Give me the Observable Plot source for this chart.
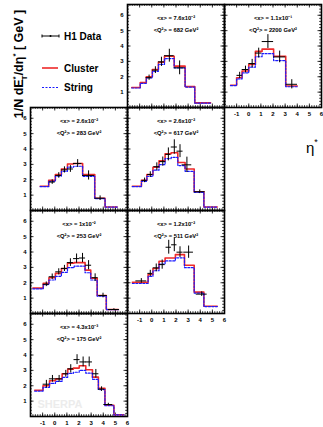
<!DOCTYPE html>
<html><head><meta charset="utf-8">
<script src="https://cdn.jsdelivr.net/npm/d3@7"></script>
<script src="https://cdn.jsdelivr.net/npm/@observablehq/plot@0.6"></script>
<style>
body{margin:0;background:#fff;}
#wrap{position:relative;width:323px;height:427px;overflow:hidden;font-family:"Liberation Sans",Arial,Helvetica,sans-serif;}
#wrap svg{position:absolute;}
</style></head><body><div id="wrap"></div>
<script>
// ---- tick labels ----
const etaTickLabels = [-1, 0, 1, 2, 3, 4, 5, 6];
const yTickLabels = [1, 2, 3, 4, 5, 6];
const panelXLabels = ["<x> = 7.6x10⁻²", "<x> = 1.1x10⁻¹", "<x> = 2.6x10⁻²", "<x> = 2.6x10⁻²", "<x> = 1x10⁻²", "<x> = 1.2x10⁻²", "<x> = 4.3x10⁻³"];
const panelQ2Labels = ["<Q²> = 682 GeV²", "<Q²> = 2200 GeV²", "<Q²> = 283 GeV²", "<Q²> = 617 GeV²", "<Q²> = 253 GeV²", "<Q²> = 511 GeV²", "<Q²> = 175 GeV²"];
const seriesNames = ["H1 Data", "Cluster", "String"];

// ---- panel A : <Q2>=682 ----
const aEdges = [-1.65, -0.95, -0.45, 0.05, 0.55, 1.05, 1.85, 2.75, 3.55, 4.85];
const aCluster = [1.30, 1.62, 2.00, 2.47, 2.94, 3.33, 2.69, 1.36, 0.30];
const aString = [1.27, 1.57, 1.92, 2.35, 2.80, 3.18, 2.58, 1.33, 0.28];
const aEta = [-0.22, 0.30, 0.80, 1.45, 2.30];
const aData = [1.94, 2.43, 2.97, 3.37, 2.58];
const aDx = [0.25, 0.25, 0.25, 0.40, 0.45];
const aDy = [0.17, 0.22, 0.30, 0.42, 0.45];
// ---- panel B : <Q2>=2200 ----
const bEdges = [-1.5, -1.0, -0.55, 0.0, 0.55, 1.1, 2.05, 3.05, 4.0];
const bCluster = [1.45, 1.94, 2.37, 2.80, 3.65, 3.80, 3.33, 1.40];
const bString = [1.42, 1.86, 2.25, 2.62, 3.30, 3.50, 3.05, 1.35];
const bEta = [-0.75, -0.27, 0.28, 0.82, 1.58, 2.55, 3.55];
const bData = [2.09, 2.47, 2.86, 3.54, 4.29, 3.29, 1.51];
const bDx = [0.22, 0.27, 0.27, 0.27, 0.47, 0.50, 0.47];
const bDy = [0.20, 0.22, 0.27, 0.32, 0.45, 0.38, 0.30];
// ---- panel C : <Q2>=283 ----
const cEdges = [-1.2, -0.5, 0.05, 0.55, 1.05, 1.55, 2.3, 3.3, 4.15, 5.15];
const cCluster = [1.58, 1.96, 2.34, 2.70, 3.02, 3.06, 2.34, 0.80, 0.23];
const cString = [1.55, 1.90, 2.24, 2.55, 2.82, 2.88, 2.22, 0.77, 0.22];
const cEta = [-0.21, 0.33, 0.80, 1.29, 1.89, 2.79, 3.74];
const cData = [1.85, 2.28, 2.64, 2.70, 3.06, 2.28, 0.80];
const cDx = [0.25, 0.25, 0.25, 0.25, 0.35, 0.50, 0.42];
const cDy = [0.15, 0.18, 0.20, 0.22, 0.25, 0.30, 0.15];
// ---- panel D : <Q2>=617 ----
const dEdges = [-1.6, -0.85, -0.4, 0.1, 0.6, 1.1, 1.6, 2.15, 2.75, 3.5, 4.3, 5.4];
const dCluster = [1.58, 1.96, 2.34, 2.81, 3.23, 3.69, 3.76, 3.12, 2.70, 1.22, 0.23];
const dString = [1.55, 1.90, 2.22, 2.62, 2.98, 3.38, 3.45, 2.92, 2.55, 1.18, 0.22];
const dEta = [-0.59, -0.12, 0.42, 0.91, 1.37, 1.86, 2.33, 2.90, 3.96];
const dData = [1.96, 2.34, 2.85, 3.18, 3.65, 4.13, 3.86, 2.97, 1.22];
const dDx = [0.22, 0.22, 0.25, 0.25, 0.22, 0.25, 0.25, 0.40, 0.45];
const dDy = [0.15, 0.18, 0.25, 0.30, 0.42, 0.47, 0.42, 0.50, 0.12];
// ---- panel E : <Q2>=253 ----
const eEdges = [-1.8, -0.95, -0.48, 0.05, 0.55, 1.05, 1.6, 2.5, 2.97, 3.5, 4.25, 5.25];
const eCluster = [1.65, 1.97, 2.33, 2.61, 2.93, 3.28, 3.31, 2.82, 2.29, 1.17, 0.26];
const eString = [1.60, 1.88, 2.18, 2.42, 2.68, 2.98, 3.08, 2.65, 2.18, 1.13, 0.25];
const eEta = [-0.70, -0.21, 0.33, 0.80, 1.29, 1.80, 2.29, 2.79, 3.33, 3.98, 4.88];
const eData = [1.90, 2.39, 2.71, 2.93, 3.31, 3.57, 3.61, 3.14, 2.33, 1.17, 0.26];
const eDx = [0.25, 0.25, 0.25, 0.25, 0.25, 0.25, 0.25, 0.25, 0.25, 0.35, 0.45];
const eDy = [0.15, 0.18, 0.20, 0.20, 0.25, 0.30, 0.30, 0.30, 0.25, 0.15, 0.05];
// ---- panel F : <Q2>=511 ----
const fEdges = [-1.6, -0.3, 0.1, 0.6, 1.1, 1.95, 2.7, 3.5, 4.3, 5.4];
const fCluster = [2.03, 2.54, 2.93, 3.40, 3.61, 3.83, 3.14, 1.39, 0.47];
const fString = [1.95, 2.42, 2.78, 3.22, 3.42, 3.62, 2.98, 1.33, 0.45];
const fEta = [-0.86, -0.12, 0.37, 0.86, 1.40, 1.86, 2.33, 3.04, 4.12];
const fData = [2.12, 2.61, 2.97, 3.18, 4.31, 4.47, 3.99, 3.99, 1.26];
const fDx = [0.45, 0.20, 0.25, 0.25, 0.22, 0.22, 0.25, 0.40, 0.45];
const fDy = [0.15, 0.20, 0.25, 0.30, 0.45, 0.45, 0.35, 0.40, 0.15];
// ---- panel G : <Q2>=175 ----
const gEdges = [-1.65, -0.97, -0.43, 0.06, 0.61, 1.07, 1.53, 2.02, 2.56, 3.11, 3.6, 4.14, 4.88, 5.69];
const gCluster = [1.71, 2.00, 2.33, 2.45, 2.78, 3.08, 3.15, 3.30, 3.04, 2.56, 1.84, 0.73, 0.11];
const gString = [1.65, 1.90, 2.15, 2.28, 2.55, 2.80, 2.88, 3.00, 2.82, 2.42, 1.75, 0.70, 0.10];
const gEta = [-0.69, -0.19, 0.36, 0.91, 1.32, 1.84, 2.34, 2.84, 3.39, 3.86, 4.42];
const gData = [2.10, 2.45, 2.45, 2.78, 3.10, 3.70, 3.55, 3.55, 2.78, 1.78, 0.78];
const gDx = [0.27, 0.25, 0.27, 0.23, 0.23, 0.25, 0.27, 0.27, 0.25, 0.27, 0.37];
const gDy = [0.25, 0.22, 0.22, 0.22, 0.27, 0.32, 0.32, 0.32, 0.28, 0.15, 0.08];

const panels = [
  {i: 0, col: 1, row: 0, edges: aEdges, cl: aCluster, st: aString, eta: aEta, v: aData, dx: aDx, dy: aDy, yLab: true, xLab: false},
  {i: 1, col: 2, row: 0, edges: bEdges, cl: bCluster, st: bString, eta: bEta, v: bData, dx: bDx, dy: bDy, yLab: false, xLab: true},
  {i: 2, col: 0, row: 1, edges: cEdges, cl: cCluster, st: cString, eta: cEta, v: cData, dx: cDx, dy: cDy, yLab: true, xLab: false},
  {i: 3, col: 1, row: 1, edges: dEdges, cl: dCluster, st: dString, eta: dEta, v: dData, dx: dDx, dy: dDy, yLab: false, xLab: false},
  {i: 4, col: 0, row: 2, edges: eEdges, cl: eCluster, st: eString, eta: eEta, v: eData, dx: eDx, dy: eDy, yLab: true, xLab: false},
  {i: 5, col: 1, row: 2, edges: fEdges, cl: fCluster, st: fString, eta: fEta, v: fData, dx: fDx, dy: fDy, yLab: false, xLab: true},
  {i: 6, col: 0, row: 3, edges: gEdges, cl: gCluster, st: gString, eta: gEta, v: gData, dx: gDx, dy: gDy, yLab: true, xLab: true, sherpa: true}
];

const wrap = document.getElementById("wrap");
const FONT = '"Liberation Sans",Arial,Helvetica,sans-serif';

// overlay: legend, axis titles
const ns = "http://www.w3.org/2000/svg";
const ov = document.createElementNS(ns, "svg");
ov.setAttribute("width", 323); ov.setAttribute("height", 427);
ov.style.left = "0px"; ov.style.top = "0px";
ov.innerHTML = `
<g font-family='${FONT}' font-weight='bold'>
 <text transform='translate(23,64) rotate(-90)' text-anchor='middle' font-size='12.5'>1/N dE<tspan font-size='8' dy='-5'>*</tspan><tspan font-size='8' dx='-4' dy='9'>T</tspan><tspan dy='-4'>/dη</tspan><tspan font-size='8' dy='-5'>*</tspan><tspan dy='5'> [ GeV ]</tspan></text>
 <line x1='42' x2='59' y1='36' y2='36' stroke='black' stroke-width='1'/>
 <line x1='42' x2='42' y1='34.5' y2='37.5' stroke='black' stroke-width='1'/>
 <line x1='59' x2='59' y1='34.5' y2='37.5' stroke='black' stroke-width='1'/>
 <circle cx='50.5' cy='36' r='1' fill='black'/>
 <line x1='42' x2='58' y1='68' y2='68' stroke='#ee2a2a' stroke-width='1.6'/>
 <line x1='42' x2='58' y1='87.5' y2='87.5' stroke='#1a1aff' stroke-width='1.2' stroke-dasharray='2 1.5'/>
 <text x='64' y='39.5' font-size='10'>${seriesNames[0]}</text>
 <text x='64' y='71.5' font-size='10'>${seriesNames[1]}</text>
 <text x='64' y='91' font-size='10'>${seriesNames[2]}</text>
</g>
<text x='306' y='153' font-family='${FONT}' font-size='15'>η<tspan font-size='9' dy='-8'>*</tspan></text>`;
wrap.appendChild(ov);

const X0 = 30, W = 97, Y0 = 4, H = 103;
const XD = [-2, 6], YD = [0, 6.7];
const kx = W / (XD[1] - XD[0]), ky = H / (YD[1] - YD[0]);
const mL = 16, mR = 3, mT = 3, mB = 14;
const maj = 3.5, mnr = 1.8;
const xMinor = d3.range(-20, 61, 2).map(v => v / 10);
const xMajor = d3.range(-2, 7);
const yMinor = d3.range(0, 67, 2).map(v => v / 10);
const yMajor = d3.range(0, 7);

function stepPoints(edges, vals) {
  return edges.map((e, j) => ({x: e, y: vals[Math.min(j, vals.length - 1)]}));
}

for (const p of panels) {
  const rows = p.eta.map((e, j) => ({eta: e, v: p.v[j], dx: p.dx[j], dy: p.dy[j]}));
  const tk = {stroke: "black", strokeWidth: 0.8};
  const marks = [
    // ticks (inward, on all four sides)
    Plot.ruleX(xMinor, {x: d => d, y1: YD[0], y2: YD[0] + mnr / ky, ...tk}),
    Plot.ruleX(xMajor, {x: d => d, y1: YD[0], y2: YD[0] + maj / ky, ...tk}),
    Plot.ruleX(xMinor, {x: d => d, y1: YD[1] - mnr / ky, y2: YD[1], ...tk}),
    Plot.ruleX(xMajor, {x: d => d, y1: YD[1] - maj / ky, y2: YD[1], ...tk}),
    Plot.ruleY(yMinor, {y: d => d, x1: XD[0], x2: XD[0] + mnr / kx, ...tk}),
    Plot.ruleY(yMajor, {y: d => d, x1: XD[0], x2: XD[0] + maj / kx, ...tk}),
    Plot.ruleY(yMinor, {y: d => d, x1: XD[1] - mnr / kx, x2: XD[1], ...tk}),
    Plot.ruleY(yMajor, {y: d => d, x1: XD[1] - maj / kx, x2: XD[1], ...tk}),
    Plot.frame({stroke: "black", strokeWidth: 1.6}),
    Plot.line(stepPoints(p.edges, p.cl), {x: "x", y: "y", curve: "step-after", stroke: "#ee2a2a", strokeWidth: 1.6}),
    Plot.line(stepPoints(p.edges, p.st), {x: "x", y: "y", curve: "step-after", stroke: "#1a1aff", strokeWidth: 1.2, strokeDasharray: "2 1.5"}),
    Plot.ruleY(rows, {y: "v", x1: d => d.eta - d.dx, x2: d => d.eta + d.dx, stroke: "black", strokeWidth: 1}),
    Plot.ruleX(rows, {x: "eta", y1: d => d.v - d.dy, y2: d => d.v + d.dy, stroke: "black", strokeWidth: 1}),
    Plot.text([panelXLabels[p.i]], {frameAnchor: "top", dy: 11, text: d => d, fontSize: 5.8, fontWeight: "bold"}),
    Plot.text([panelQ2Labels[p.i]], {frameAnchor: "top", dy: 23, text: d => d, fontSize: 5.8, fontWeight: "bold"})
  ];
  if (p.xLab) marks.push(Plot.text(etaTickLabels, {x: d => d, y: YD[0], dy: 7, text: d => String(d), fontSize: 6, fontWeight: "bold"}));
  if (p.yLab) marks.push(Plot.text(yTickLabels, {x: XD[0], y: d => d, dx: -4, textAnchor: "end", text: d => String(d), fontSize: 6, fontWeight: "bold"}));
  if (p.sherpa) marks.push(Plot.text(["SHERPA"], {frameAnchor: "bottom-left", dx: 7, dy: -9, text: d => d, fontSize: 11, fontWeight: "bold", fill: "#ececec"}));
  const svg = Plot.plot({
    width: W + mL + mR, height: H + mT + mB,
    marginLeft: mL, marginRight: mR, marginTop: mT, marginBottom: mB,
    x: {domain: XD, axis: null},
    y: {domain: YD, axis: null},
    style: {background: "transparent", overflow: "visible", fontFamily: FONT, color: "black"},
    marks
  });
  svg.style.position = "absolute";
  svg.style.left = (X0 + p.col * W - mL) + "px";
  svg.style.top = (Y0 + p.row * H - mT) + "px";
  wrap.appendChild(svg);
}
</script></body></html>
